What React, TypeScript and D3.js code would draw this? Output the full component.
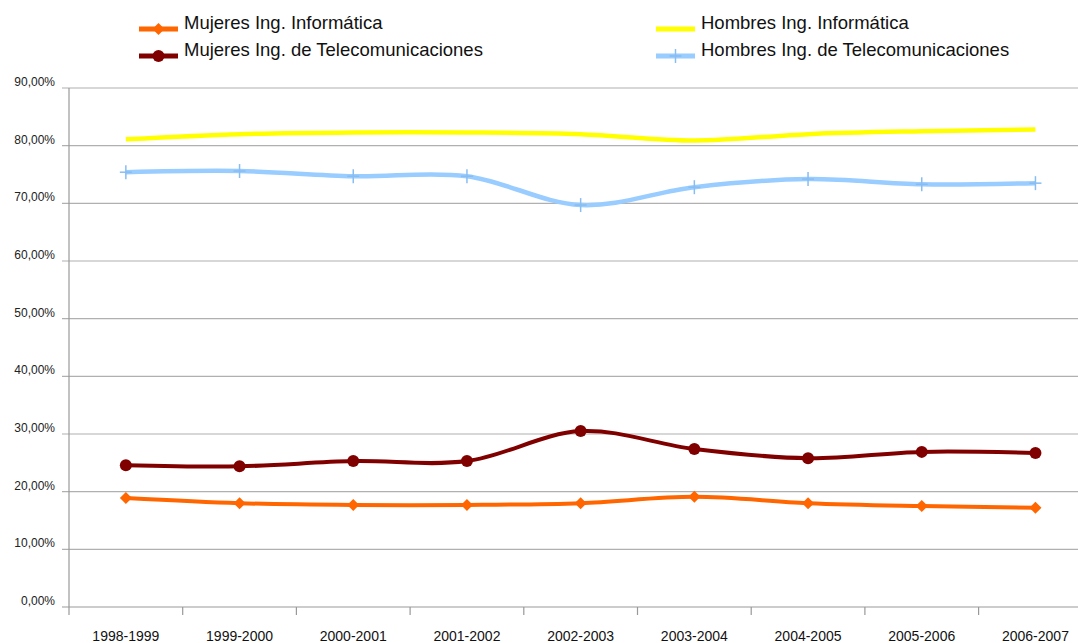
import React from "react";
import * as d3 from "d3";

const categories = [
  "1998-1999", "1999-2000", "2000-2001", "2001-2002", "2002-2003",
  "2003-2004", "2004-2005", "2005-2006", "2006-2007",
];
const mujeresInformatica = [18.9, 18.0, 17.7, 17.7, 18.0, 19.1, 18.0, 17.5, 17.2];
const hombresInformatica = [81.1, 82.0, 82.3, 82.3, 82.0, 80.9, 82.0, 82.5, 82.8];
const mujeresTeleco = [24.6, 24.4, 25.3, 25.3, 30.5, 27.4, 25.8, 26.9, 26.7];
const hombresTeleco = [75.4, 75.6, 74.7, 74.7, 69.7, 72.8, 74.2, 73.3, 73.5];
const yTicks = [0, 10, 20, 30, 40, 50, 60, 70, 80, 90];

const W = 1078;
const H = 643;
const FONT = "'Liberation Sans', Arial, Helvetica, sans-serif";

type Series = { name: string; values: number[]; color: string; width: number; marker: "diamond" | "circle" | "plus" | "none" };

const series: Series[] = [
  { name: "Mujeres Ing. Informática", values: mujeresInformatica, color: "#FF6600", width: 4, marker: "diamond" },
  { name: "Hombres Ing. Informática", values: hombresInformatica, color: "#FFFF00", width: 4.5, marker: "none" },
  { name: "Mujeres Ing. de Telecomunicaciones", values: mujeresTeleco, color: "#800000", width: 4, marker: "circle" },
  { name: "Hombres Ing. de Telecomunicaciones", values: hombresTeleco, color: "#99CCFF", width: 4.5, marker: "plus" },
];

function Marker({ kind, x, y, color }: { kind: string; x: number; y: number; color: string }) {
  if (kind === "diamond") {
    const s = 6;
    return <path d={`M${x},${y - s}L${x + s},${y}L${x},${y + s}L${x - s},${y}Z`} fill={color} />;
  }
  if (kind === "circle") {
    return <circle cx={x} cy={y} r={6} fill={color} />;
  }
  if (kind === "plus") {
    return (
      <g stroke="#88bdf2" strokeWidth={1.5}>
        <line x1={x} x2={x} y1={y - 7} y2={y + 7} />
        <line x1={x - 6} x2={x + 6} y1={y} y2={y} />
      </g>
    );
  }
  return null;
}

export default function App() {
  const axisX = 69;
  const band = 113.7;
  const x = d3.scaleBand<string>().domain(categories).range([axisX, axisX + band * categories.length]);
  const y = d3.scaleLinear().domain([0, 90]).range([607, 88]);
  const cx = (c: string) => (x(c) as number) + x.bandwidth() / 2;

  const line = d3
    .line<number>()
    .x((_, i) => cx(categories[i]))
    .y((v) => y(v))
    .curve(d3.curveCardinal.tension(0));

  const legend = [
    { s: series[0], lx: 139, ly: 29 },
    { s: series[2], lx: 139, ly: 56 },
    { s: series[1], lx: 656, ly: 29 },
    { s: series[3], lx: 656, ly: 56 },
  ];

  const xTickPositions = categories.slice(1).map((c) => x(c) as number);

  return (
    <svg width={W} height={H} style={{ position: "absolute", left: 0, top: 0, background: "#fff" }} fontFamily={FONT}>
      {yTicks.map((t) => (
        <g key={t}>
          <line x1={62} x2={W} y1={y(t)} y2={y(t)} stroke={t === 0 ? "#999" : "#b0b0b0"} strokeWidth={1.2} />
          <text x={55} y={y(t) - 2} textAnchor="end" fontSize={12} fill="#222">
            {t.toFixed(2).replace(".", ",") + "%"}
          </text>
        </g>
      ))}
      <line x1={axisX} x2={axisX} y1={88} y2={615} stroke="#999" strokeWidth={1.2} />
      {xTickPositions.map((p, i) => (
        <line key={i} x1={p} x2={p} y1={607} y2={615} stroke="#999" strokeWidth={1.2} />
      ))}
      {categories.map((c) => (
        <text key={c} x={cx(c)} y={641} textAnchor="middle" fontSize={14} fill="#111">
          {c}
        </text>
      ))}
      {series.map((s) => (
        <g key={s.name}>
          <path d={line(s.values) || ""} fill="none" stroke={s.color} strokeWidth={s.width} strokeLinejoin="round" strokeLinecap="butt" />
          {s.values.map((v, i) => (
            <Marker key={i} kind={s.marker} x={cx(categories[i])} y={y(v)} color={s.color} />
          ))}
        </g>
      ))}
      {legend.map(({ s, lx, ly }) => (
        <g key={s.name}>
          <line x1={lx} x2={lx + 39} y1={ly} y2={ly} stroke={s.color} strokeWidth={5} />
          <Marker kind={s.marker} x={lx + 19.5} y={ly} color={s.color} />
          <text x={lx + 45} y={ly} fontSize={18.5} fill="#111">
            {s.name}
          </text>
        </g>
      ))}
    </svg>
  );
}
